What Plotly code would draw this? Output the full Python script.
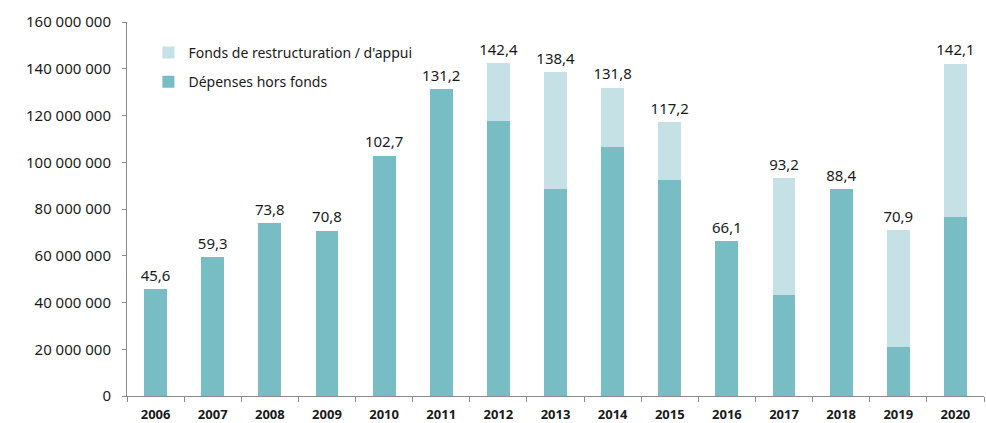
import plotly.graph_objects as go

years = ["2006", "2007", "2008", "2009", "2010", "2011", "2012", "2013",
         "2014", "2015", "2016", "2017", "2018", "2019", "2020"]
totals_m = [45.6, 59.3, 73.8, 70.8, 102.7, 131.2, 142.4, 138.4,
            131.8, 117.2, 66.1, 93.2, 88.4, 70.9, 142.1]
hors_fonds_m = [45.6, 59.3, 73.8, 70.8, 102.7, 131.2, 117.6, 88.6,
                106.5, 92.3, 66.1, 43.2, 88.4, 21.0, 76.4]
fonds_m = [round(t - h, 1) for t, h in zip(totals_m, hors_fonds_m)]

M = 1_000_000
dark = "#78BCC4"
light = "#C5E1E6"
font = "Noto Sans"

fig = go.Figure()
fig.add_trace(go.Bar(
    x=years, y=[v * M for v in hors_fonds_m], name="Dépenses hors fonds",
    legendgroup="a", legendrank=2,
    marker=dict(color=dark, line=dict(width=0)), hoverinfo="skip"))
fig.add_trace(go.Bar(
    x=years, y=[v * M for v in fonds_m], name="Fonds de restructuration / d'appui",
    legendgroup="b", legendrank=1,
    marker=dict(color=light, line=dict(width=0)), hoverinfo="skip"))
fig.add_trace(go.Scatter(
    x=years, y=[v * M for v in totals_m], mode="markers+text",
    marker=dict(size=6, color="rgba(0,0,0,0)"),
    text=[f"{v:.1f}".replace(".", ",") for v in totals_m],
    textposition="top center", textfont=dict(family=font, size=15, color="#1a1a1a"),
    showlegend=False, hoverinfo="skip", cliponaxis=False))

fig.update_layout(
    width=986, height=423,
    margin=dict(l=127, r=2, t=22, b=27),
    barmode="stack", bargap=0.6,
    plot_bgcolor="white", paper_bgcolor="white",
    separators=", ",
    font=dict(family=font, size=15, color="#1a1a1a"),
    legend=dict(x=0.025, y=0.96, xanchor="left", yanchor="top",
                traceorder="grouped", font=dict(size=14, color="#1a1a1a"),
                itemwidth=30, tracegroupgap=8, bgcolor="rgba(0,0,0,0)"),
    showlegend=True,
)
fig.update_yaxes(range=[0, 160 * M], dtick=20 * M, tickformat=",d",
                 showgrid=False, zeroline=False, showline=True, automargin=False,
                 linecolor="#8c8c8c", linewidth=1, ticks="outside",
                 ticklen=4, tickcolor="#8c8c8c", ticklabelstandoff=8,
                 tickfont=dict(family=font, size=15, color="#1a1a1a"))
fig.update_xaxes(range=[-0.5, len(years) - 0.5],
                 showgrid=False, showline=True, linecolor="#8c8c8c", linewidth=1,
                 ticks="outside", tickson="boundaries", ticklen=5, automargin=False,
                 tickcolor="#8c8c8c", ticklabelstandoff=6,
                 tickfont=dict(family=font, size=13, color="#1a1a1a", weight="bold"))

fig.write_html("out.html", config={"displayModeBar": False},
               post_script="document.body.style.margin='0';")
